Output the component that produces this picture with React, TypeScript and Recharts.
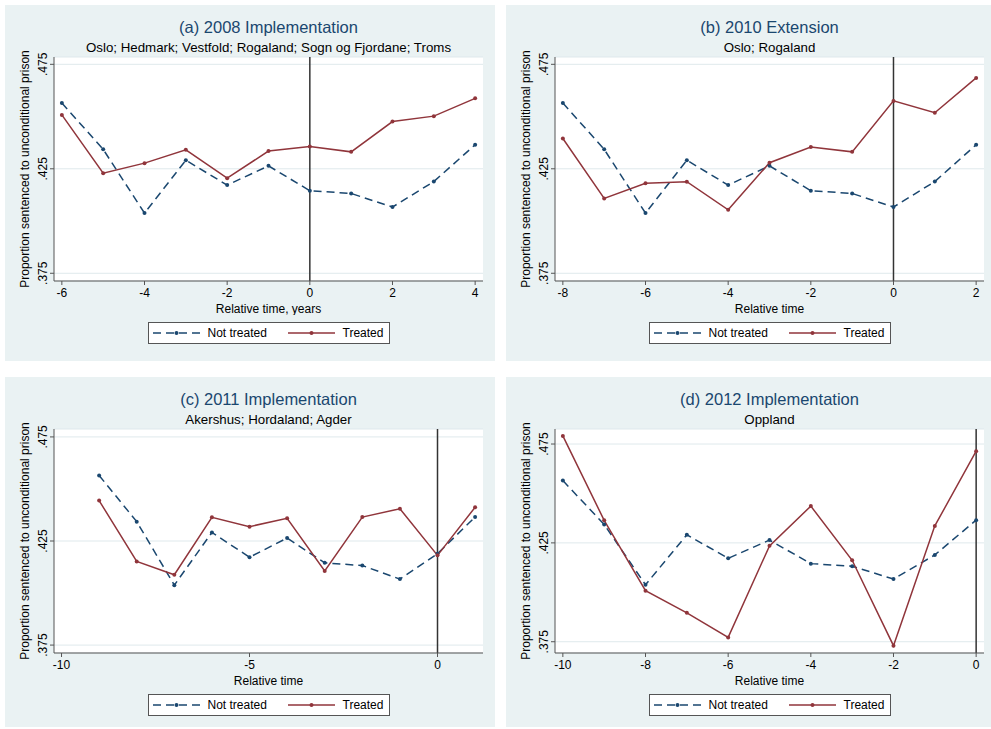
import * as React from "react"
import {
  CartesianGrid,
  Line,
  LineChart,
  ReferenceLine,
  XAxis,
  YAxis,
} from "recharts"

// relative time for each panel
const timeA = [-6, -5, -4, -3, -2, -1, 0, 1, 2, 3, 4]
const timeB = [-8, -7, -6, -5, -4, -3, -2, -1, 0, 1, 2]
const timeC = [-9, -8, -7, -6, -5, -4, -3, -2, -1, 0, 1]
const timeD = [-10, -9, -8, -7, -6, -5, -4, -3, -2, -1, 0]

// control counties, same series in every panel
const notTreated = [0.4565, 0.4343, 0.4038, 0.4291, 0.4172, 0.4264, 0.4145, 0.4132, 0.4067, 0.4189, 0.4365]

const treatedA = [0.4508, 0.4229, 0.4277, 0.4341, 0.4205, 0.4335, 0.4357, 0.4331, 0.4476, 0.4502, 0.4587]
const treatedB = [0.4395, 0.4108, 0.4181, 0.4188, 0.4054, 0.4279, 0.4354, 0.4331, 0.4575, 0.4518, 0.4685]
const treatedC = [0.4444, 0.4152, 0.4088, 0.4364, 0.4319, 0.4359, 0.4106, 0.4365, 0.4405, 0.4181, 0.4412]
const treatedD = [0.4791, 0.4364, 0.4008, 0.3896, 0.3772, 0.4235, 0.4436, 0.4162, 0.3730, 0.4336, 0.4714]

const yTicks = [0.375, 0.425, 0.475]

const NAVY = "#1a476f"
const MAROON = "#90353b"
const BG = "#eaf2f3"
const FONT = '"Liberation Sans", Arial, sans-serif'

const fmt = (v: number) => v.toFixed(3).replace(/^0/, "")

function YTick(props: any) {
  const { x, y, payload } = props
  const tx = x - 5
  return (
    <text
      x={tx}
      y={y}
      transform={`rotate(-90 ${tx} ${y})`}
      textAnchor="middle"
      dominantBaseline="central"
      fontSize={12}
      fill="#000"
      fontFamily={FONT}
    >
      {fmt(payload.value)}
    </text>
  )
}

function LegendBox({ center }: { center: number }) {
  const item = (color: string, dash: string | undefined, x: number, label: string, tx: number) => (
    <>
      <svg width={50} height={20} style={{ position: "absolute", left: x, top: 0 }}>
        <line x1={0} y1={10} x2={47} y2={10} stroke={color} strokeWidth={1.5} strokeDasharray={dash} />
        <circle cx={23.5} cy={10} r={2} fill={color} />
      </svg>
      <span style={{ position: "absolute", left: tx, top: 3, whiteSpace: "nowrap", lineHeight: "14px" }}>{label}</span>
    </>
  )
  return (
    <div
      style={{
        position: "absolute",
        left: center - 121,
        top: 317,
        width: 240,
        height: 20,
        border: "1px solid #555",
        background: "#fff",
        fontSize: 12,
        fontFamily: FONT,
      }}
    >
      {item(NAVY, "8 5", 4, "Not treated", 59)}
      {item(MAROON, undefined, 139, "Treated", 194)}
    </div>
  )
}

interface PanelProps {
  left: number
  top: number
  width: number
  height: number
  title: string
  subtitle: string
  xLabel: string
  time: number[]
  treated: number[]
  xDomain: [number, number]
  xTicks: number[]
  yDomain: [number, number]
}

function Panel({ left, top, width, height, title, subtitle, xLabel, time, treated, xDomain, xTicks, yDomain }: PanelProps) {
  const data = time.map((t, i) => ({ t, notTreated: notTreated[i], treated: treated[i] }))
  const plotLeft = 49
  const plotRight = 478
  const center = (plotLeft + plotRight) / 2
  return (
    <div style={{ position: "absolute", left, top, width, height, background: BG, fontFamily: FONT }}>
      <div
        style={{
          position: "absolute",
          left: center - 200,
          width: 400,
          top: 13,
          textAlign: "center",
          fontSize: 16.5,
          lineHeight: "19px",
          color: NAVY,
        }}
      >
        {title}
      </div>
      <div
        style={{
          position: "absolute",
          left: center - 230,
          width: 460,
          top: 35,
          textAlign: "center",
          fontSize: 13.3,
          lineHeight: "15px",
          color: "#000",
          whiteSpace: "nowrap",
        }}
      >
        {subtitle}
      </div>
      <div style={{ position: "absolute", left: 0, top: 0 }}>
        <LineChart
          width={width}
          height={310}
          data={data}
          margin={{ top: 52, right: width - plotRight, left: 0, bottom: 0 }}
        >
          <CartesianGrid vertical={false} stroke="#dfe9ec" fill="#fff" />
          <XAxis
            dataKey="t"
            type="number"
            domain={xDomain}
            ticks={xTicks}
            allowDataOverflow
            height={34}
            tickSize={4}
            tickMargin={3}
            tick={{ fill: "#000", fontSize: 12, fontFamily: FONT }}
            axisLine={{ stroke: "#555" }}
            tickLine={{ stroke: "#555" }}
            label={{ value: xLabel, position: "insideBottom", offset: 2, fill: "#000", fontSize: 12, fontFamily: FONT }}
          />
          <YAxis
            type="number"
            domain={yDomain}
            ticks={yTicks}
            allowDataOverflow
            width={plotLeft}
            tickSize={4}
            tickMargin={2}
            tick={<YTick />}
            axisLine={{ stroke: "#555" }}
            tickLine={{ stroke: "#555" }}
            label={{
              value: "Proportion sentenced to unconditional prison",
              angle: -90,
              position: "insideLeft",
              offset: 20,
              fill: "#000",
              fontSize: 12,
              fontFamily: FONT,
              style: { textAnchor: "middle" },
            }}
          />
          <ReferenceLine x={0} stroke="#333" strokeWidth={1.5} />
          <Line
            dataKey="notTreated"
            stroke={NAVY}
            strokeWidth={1.5}
            strokeDasharray="8 5"
            dot={{ r: 2, fill: NAVY, stroke: NAVY, strokeWidth: 0 }}
            isAnimationActive={false}
          />
          <Line
            dataKey="treated"
            stroke={MAROON}
            strokeWidth={1.5}
            dot={{ r: 2, fill: MAROON, stroke: MAROON, strokeWidth: 0 }}
            isAnimationActive={false}
          />
        </LineChart>
      </div>
      <LegendBox center={center} />
    </div>
  )
}

export default function App() {
  return (
    <div style={{ position: "absolute", left: 0, top: 0, width: 991, height: 729, background: "#fff" }}>
      <Panel
        left={5}
        top={5}
        width={490}
        height={356}
        title="(a) 2008 Implementation"
        subtitle="Oslo; Hedmark; Vestfold; Rogaland; Sogn og Fjordane; Troms"
        xLabel="Relative time, years"
        time={timeA}
        treated={treatedA}
        xDomain={[-6.19, 4.19]}
        xTicks={[-6, -4, -2, 0, 2, 4]}
        yDomain={[0.3713, 0.4785]}
      />
      <Panel
        left={506}
        top={5}
        width={485}
        height={356}
        title="(b) 2010 Extension"
        subtitle="Oslo; Rogaland"
        xLabel="Relative time"
        time={timeB}
        treated={treatedB}
        xDomain={[-8.19, 2.19]}
        xTicks={[-8, -6, -4, -2, 0, 2]}
        yDomain={[0.3713, 0.4785]}
      />
      <Panel
        left={5}
        top={377}
        width={490}
        height={350}
        title="(c) 2011 Implementation"
        subtitle="Akershus; Hordaland; Agder"
        xLabel="Relative time"
        time={timeC}
        treated={treatedC}
        xDomain={[-10.2, 1.21]}
        xTicks={[-10, -5, 0]}
        yDomain={[0.3712, 0.4788]}
      />
      <Panel
        left={506}
        top={377}
        width={485}
        height={350}
        title="(d) 2012 Implementation"
        subtitle="Oppland"
        xLabel="Relative time"
        time={timeD}
        treated={treatedD}
        xDomain={[-10.19, 0.19]}
        xTicks={[-10, -8, -6, -4, -2, 0]}
        yDomain={[0.3693, 0.4826]}
      />
    </div>
  )
}
